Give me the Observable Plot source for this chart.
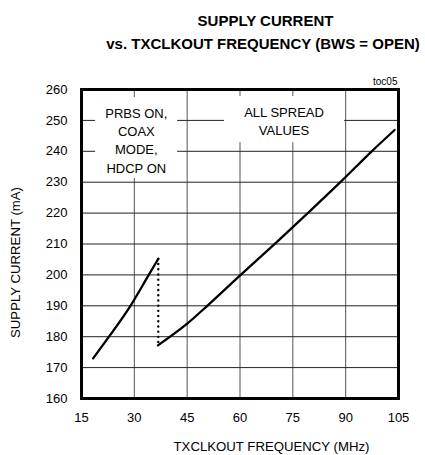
<!DOCTYPE html>
<html>
<head>
<meta charset="utf-8">
<script src="https://cdn.jsdelivr.net/npm/d3@7"></script>
<script src="https://cdn.jsdelivr.net/npm/@observablehq/plot@0.6"></script>
<style>
  html, body { margin: 0; padding: 0; background: white; }
  #chart { width: 425px; height: 455px; }
</style>
</head>
<body>
<div id="chart"></div>
<script>
// ---- data ----
const xTicks = [15, 30, 45, 60, 75, 90, 105];
const yTicks = [160, 170, 180, 190, 200, 210, 220, 230, 240, 250, 260];

// PRBS ON, COAX MODE, HDCP ON branch
const leftFreq = [18.3, 22.8, 28.9, 34.1, 36.8];
const leftCurrent = [173.0, 180.0, 190.0, 200.0, 205.2];

// All spread values branch
const rightFreq = [36.7, 45.0, 50.7, 60.2, 70.5, 80.0, 88.5, 97.4, 103.9];
const rightCurrent = [177.2, 184.2, 190.0, 200.0, 210.7, 220.8, 230.0, 240.0, 246.9];

// dotted transition
const stepFreq = [36.8, 36.8];
const stepCurrent = [205.2, 177.2];

// annotations (data units)
const noteText = ["PRBS ON,\nCOAX\nMODE,\nHDCP ON", "ALL SPREAD\nVALUES"];
const noteX = [30.56, 72.5];
const noteY = [243.8, 250.1];
const boxX1 = [19.0, 55.6];
const boxX2 = [42.3, 89.7];
const boxY1 = [231.2, 242.8];
const boxY2 = [257.4, 257.7];

const titleLines = ["SUPPLY CURRENT", "vs. TXCLKOUT FREQUENCY (BWS = OPEN)"];
const xTitle = "TXCLKOUT FREQUENCY (MHz)";
const yTitle = "SUPPLY CURRENT (mA)";
const tag = "toc05";

// ---- build ----
const left = leftFreq.map((f, i) => ({f, c: leftCurrent[i]}));
const right = rightFreq.map((f, i) => ({f, c: rightCurrent[i]}));
const step = stepFreq.map((f, i) => ({f, c: stepCurrent[i]}));
const notes = noteText.map((t, i) => ({t, x: noteX[i], y: noteY[i]}));
const boxes = boxX1.map((x1, i) => ({x1, x2: boxX2[i], y1: boxY1[i], y2: boxY2[i]}));

const font = "'Liberation Sans', Arial, Helvetica, sans-serif";

const chart = Plot.plot({
  width: 425,
  height: 455,
  marginTop: 89,
  marginLeft: 81,
  marginRight: 27,
  marginBottom: 57,
  style: {fontFamily: font, fontSize: "13px", color: "black", background: "white"},
  x: {domain: [15, 105], label: null},
  y: {domain: [160, 260], label: null},
  marks: [
    Plot.gridX(xTicks, {stroke: "#555", strokeOpacity: 1, strokeWidth: 1}),
    Plot.gridY(yTicks, {stroke: "#222", strokeOpacity: 1, strokeWidth: 1}),
    Plot.rect(boxes, {x1: "x1", x2: "x2", y1: "y1", y2: "y2", fill: "white"}),
    Plot.text(notes, {x: "x", y: "y", text: "t", lineHeight: 1.4, fontSize: 13, fill: "black"}),
    Plot.line(left, {x: "f", y: "c", curve: "monotone-x", stroke: "black", strokeWidth: 2.3}),
    Plot.line(right, {x: "f", y: "c", curve: "monotone-x", stroke: "black", strokeWidth: 2.3}),
    Plot.line(step, {x: "f", y: "c", stroke: "black", strokeWidth: 2.4, strokeLinecap: "round", strokeDasharray: "0,5.2"}),
    Plot.frame({stroke: "black", strokeWidth: 3}),
    Plot.axisX(xTicks, {tickSize: 0, tickPadding: 14, fontSize: 13, label: null}),
    Plot.axisY(yTicks, {tickSize: 0, tickPadding: 14, fontSize: 13, label: null}),
    Plot.text([xTitle], {frameAnchor: "bottom", text: d => d, dx: 31.5, dy: 48, textAnchor: "middle", lineAnchor: "middle", fontSize: 13.2}),
    Plot.text([yTitle], {frameAnchor: "left", text: d => d, dx: -66, dy: 18.5, rotate: -90, textAnchor: "middle", lineAnchor: "middle", fontSize: 13.2}),
    Plot.text([tag], {frameAnchor: "top-right", text: d => d, dx: -1, dy: -7.3, textAnchor: "end", lineAnchor: "middle", fontSize: 10}),
    Plot.text([titleLines[0]], {frameAnchor: "top", text: d => d, dx: 25.5, dy: -68.1, textAnchor: "middle", lineAnchor: "middle", fontSize: 15, fontWeight: "bold"}),
    Plot.text([titleLines[1]], {frameAnchor: "top", text: d => d, dx: 23, dy: -45.5, textAnchor: "middle", lineAnchor: "middle", fontSize: 15, fontWeight: "bold"})
  ]
});
document.getElementById("chart").appendChild(chart);
</script>
</body>
</html>
